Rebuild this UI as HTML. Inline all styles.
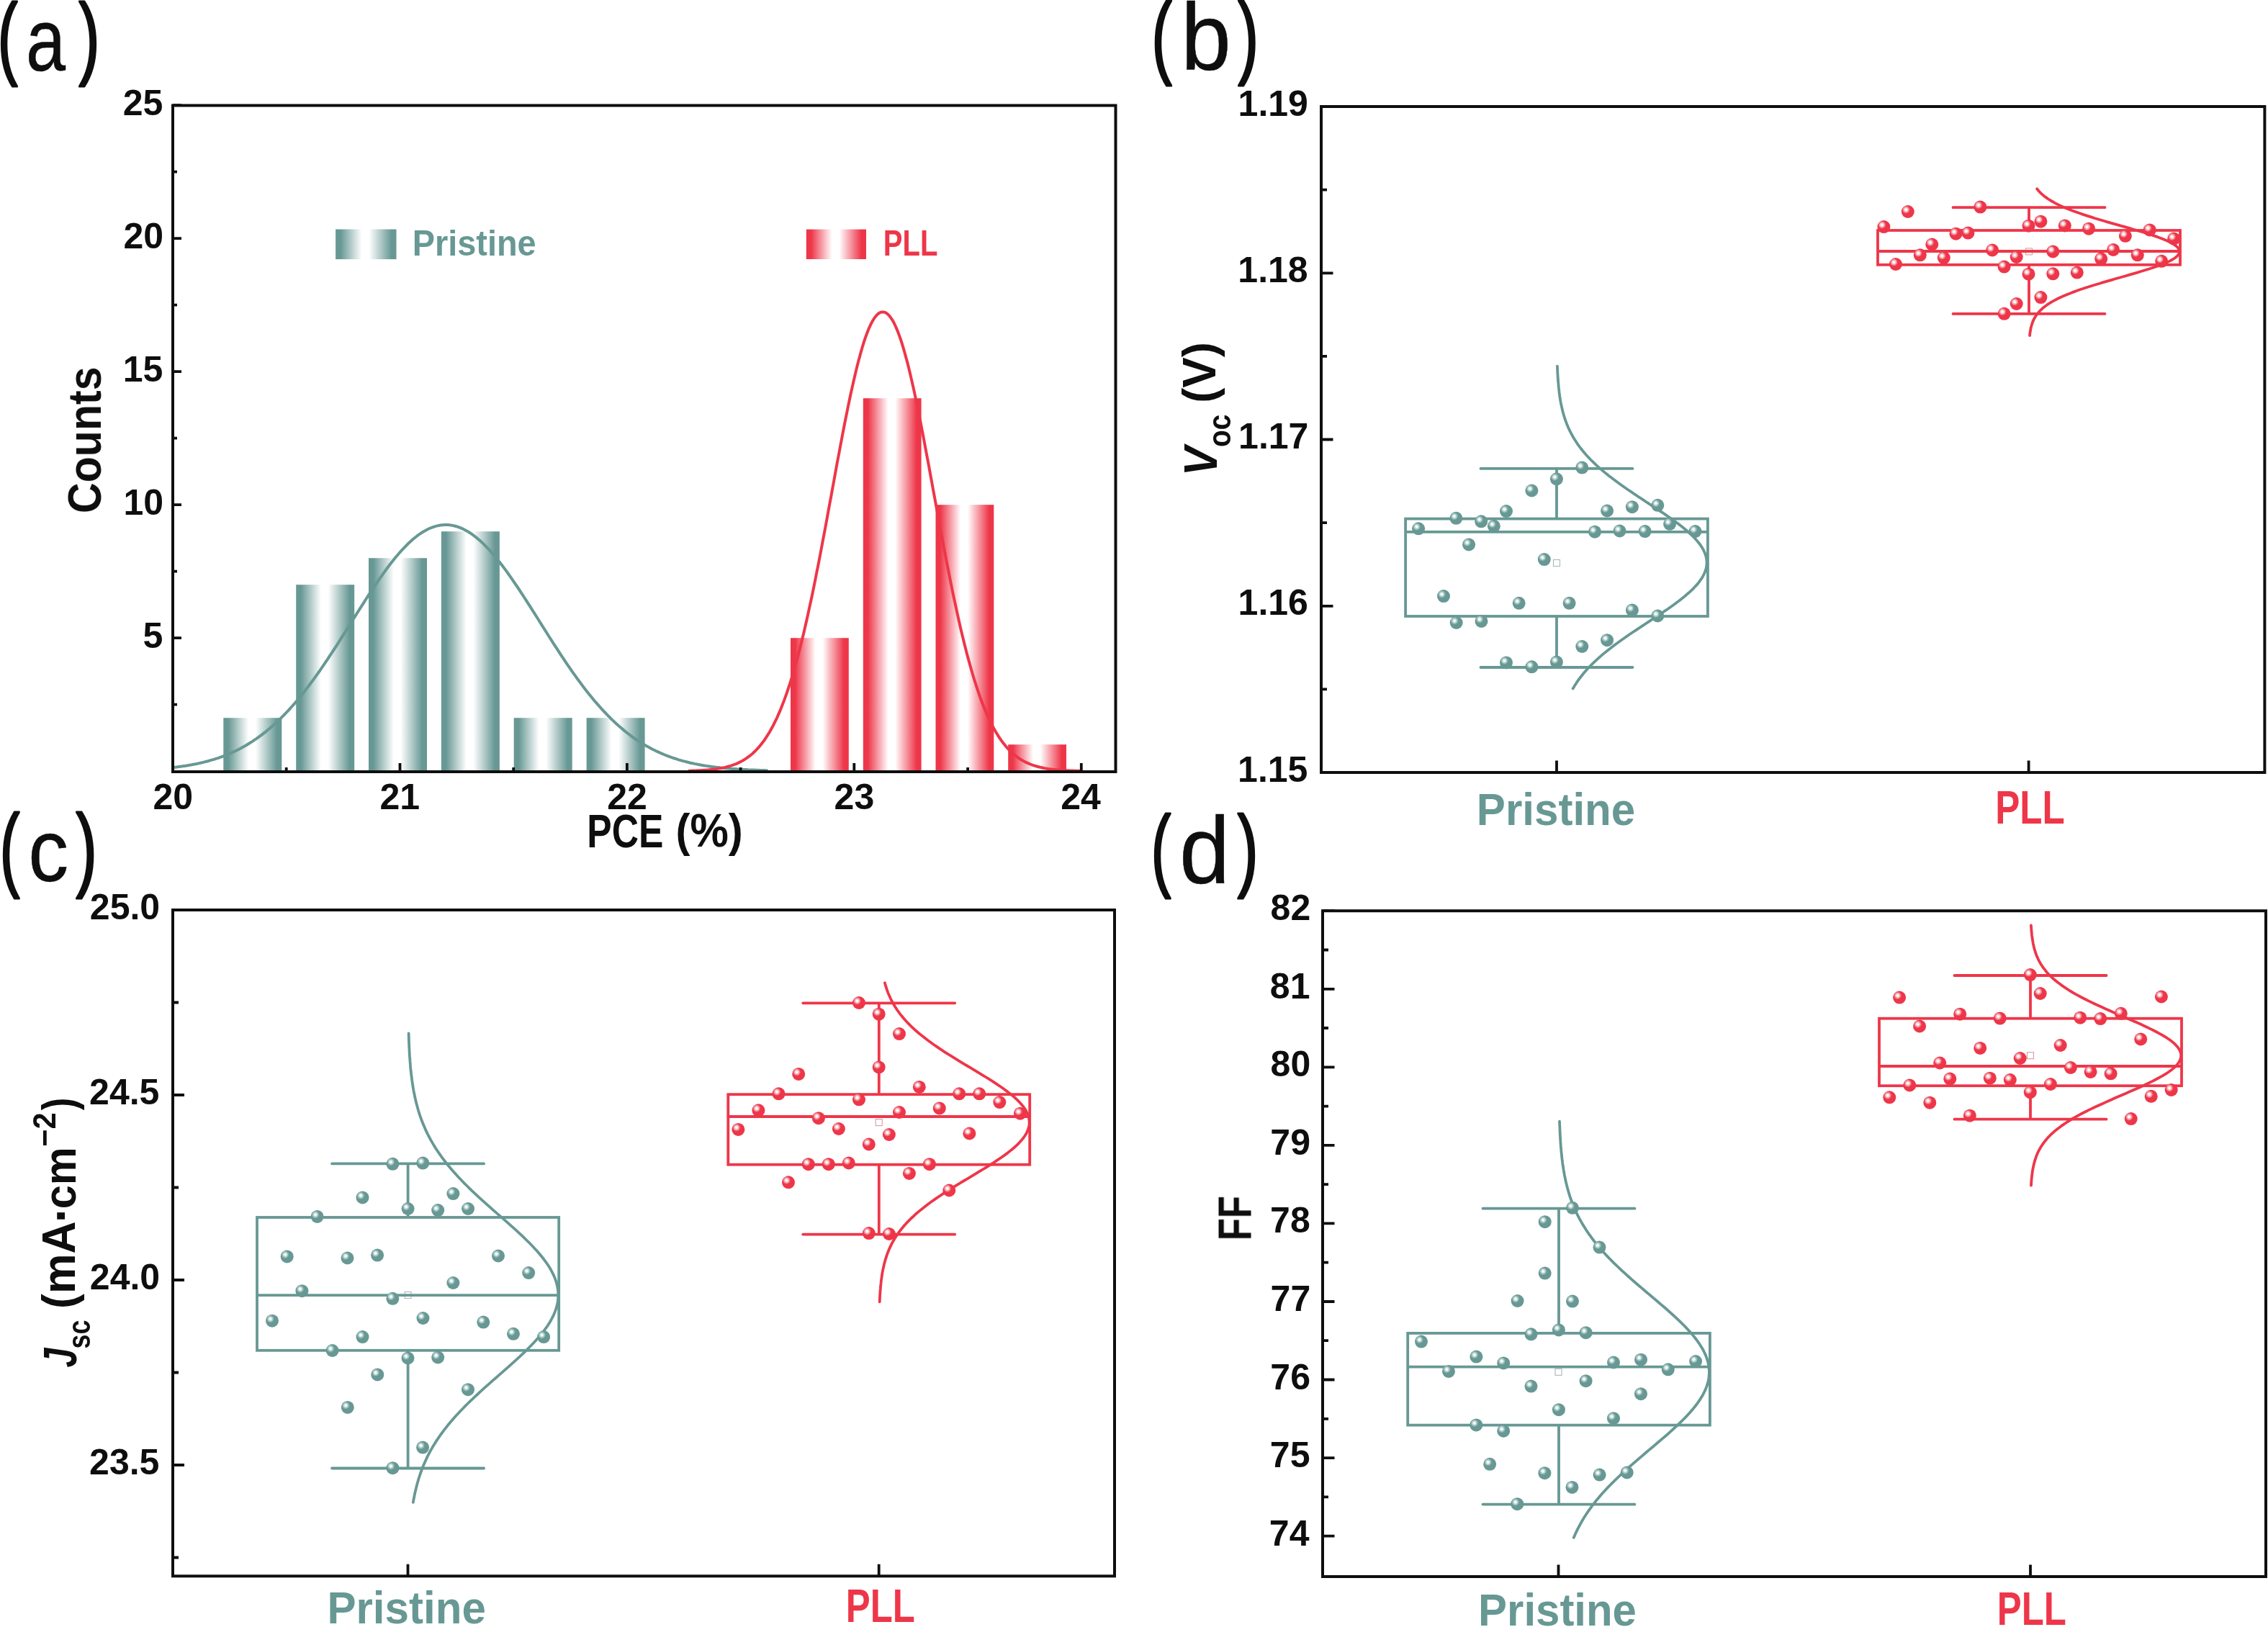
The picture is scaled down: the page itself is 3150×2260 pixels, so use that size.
<!DOCTYPE html><html><head><meta charset="utf-8"><style>html,body{margin:0;padding:0;background:#fff;}svg{display:block;}</style></head><body><svg width="3150" height="2260" viewBox="0 0 3150 2260" font-family="Liberation Sans, sans-serif">
<defs>
<linearGradient id="gT" x1="0" y1="0" x2="1" y2="0"><stop offset="0" stop-color="#679894"/><stop offset="0.08" stop-color="#679894"/><stop offset="0.43" stop-color="#ffffff"/><stop offset="0.55" stop-color="#ffffff"/><stop offset="0.92" stop-color="#679894"/><stop offset="1" stop-color="#679894"/></linearGradient>
<linearGradient id="gR" x1="0" y1="0" x2="1" y2="0"><stop offset="0" stop-color="#EE3649"/><stop offset="0.08" stop-color="#EE3649"/><stop offset="0.43" stop-color="#ffffff"/><stop offset="0.55" stop-color="#ffffff"/><stop offset="0.92" stop-color="#EE3649"/><stop offset="1" stop-color="#EE3649"/></linearGradient>
<radialGradient id="sT" cx="0.36" cy="0.35" r="0.66" fx="0.36" fy="0.35"><stop offset="0" stop-color="#ffffff"/><stop offset="0.1" stop-color="#f6fbfa"/><stop offset="0.28" stop-color="#a9c9c5"/><stop offset="0.46" stop-color="#679894"/><stop offset="0.9" stop-color="#679894"/><stop offset="1" stop-color="#679894"/></radialGradient>
<radialGradient id="sR" cx="0.36" cy="0.35" r="0.66" fx="0.36" fy="0.35"><stop offset="0" stop-color="#ffffff"/><stop offset="0.1" stop-color="#f6fbfa"/><stop offset="0.28" stop-color="#f5a3ad"/><stop offset="0.46" stop-color="#EE3649"/><stop offset="0.9" stop-color="#EE3649"/><stop offset="1" stop-color="#EE3649"/></radialGradient>
<filter id="idf" filterUnits="userSpaceOnUse" x="0" y="0" width="3150" height="2260"><feOffset dx="0" dy="0"/></filter>
</defs>
<rect width="3150" height="2260" fill="#ffffff"/>
<rect x="310.3" y="997.2" width="81.0" height="74.8" fill="url(#gT)"/>
<rect x="411.2" y="812.2" width="81.0" height="259.8" fill="url(#gT)"/>
<rect x="512.0" y="775.2" width="81.0" height="296.8" fill="url(#gT)"/>
<rect x="612.9" y="738.2" width="81.0" height="333.8" fill="url(#gT)"/>
<rect x="713.7" y="997.2" width="81.0" height="74.8" fill="url(#gT)"/>
<rect x="814.6" y="997.2" width="81.0" height="74.8" fill="url(#gT)"/>
<rect x="1098.0" y="886.2" width="80.8" height="185.8" fill="url(#gR)"/>
<rect x="1198.8" y="553.2" width="80.8" height="518.8" fill="url(#gR)"/>
<rect x="1299.5" y="701.2" width="80.8" height="370.8" fill="url(#gR)"/>
<rect x="1400.2" y="1034.2" width="80.8" height="37.8" fill="url(#gR)"/>
<path d="M240.0,1066.1 L242.8,1065.8 L245.5,1065.5 L248.3,1065.1 L251.0,1064.7 L253.8,1064.3 L256.5,1063.9 L259.3,1063.5 L262.0,1063.0 L264.8,1062.6 L267.5,1062.0 L270.3,1061.5 L273.1,1061.0 L275.8,1060.4 L278.6,1059.8 L281.3,1059.1 L284.1,1058.4 L286.8,1057.7 L289.6,1057.0 L292.3,1056.2 L295.1,1055.4 L297.9,1054.6 L300.6,1053.7 L303.4,1052.8 L306.1,1051.8 L308.9,1050.8 L311.6,1049.8 L314.4,1048.7 L317.1,1047.5 L319.9,1046.4 L322.6,1045.1 L325.4,1043.9 L328.2,1042.5 L330.9,1041.2 L333.7,1039.7 L336.4,1038.3 L339.2,1036.7 L341.9,1035.2 L344.7,1033.5 L347.4,1031.8 L350.2,1030.1 L353.0,1028.2 L355.7,1026.4 L358.5,1024.4 L361.2,1022.4 L364.0,1020.4 L366.7,1018.2 L369.5,1016.1 L372.2,1013.8 L375.0,1011.5 L377.7,1009.1 L380.5,1006.6 L383.3,1004.1 L386.0,1001.5 L388.8,998.9 L391.5,996.1 L394.3,993.4 L397.0,990.5 L399.8,987.6 L402.5,984.6 L405.3,981.5 L408.1,978.4 L410.8,975.2 L413.6,971.9 L416.3,968.6 L419.1,965.2 L421.8,961.7 L424.6,958.2 L427.3,954.6 L430.1,951.0 L432.8,947.3 L435.6,943.6 L438.4,939.7 L441.1,935.9 L443.9,932.0 L446.6,928.0 L449.4,924.0 L452.1,919.9 L454.9,915.8 L457.6,911.7 L460.4,907.5 L463.1,903.3 L465.9,899.1 L468.7,894.8 L471.4,890.5 L474.2,886.2 L476.9,881.9 L479.7,877.5 L482.4,873.1 L485.2,868.8 L487.9,864.4 L490.7,860.0 L493.5,855.6 L496.2,851.3 L499.0,846.9 L501.7,842.6 L504.5,838.3 L507.2,834.0 L510.0,829.7 L512.7,825.4 L515.5,821.2 L518.2,817.1 L521.0,813.0 L523.8,808.9 L526.5,804.9 L529.3,801.0 L532.0,797.1 L534.8,793.3 L537.5,789.5 L540.3,785.8 L543.0,782.3 L545.8,778.8 L548.6,775.3 L551.3,772.0 L554.1,768.8 L556.8,765.7 L559.6,762.7 L562.3,759.8 L565.1,757.0 L567.8,754.3 L570.6,751.7 L573.3,749.3 L576.1,747.0 L578.9,744.8 L581.6,742.7 L584.4,740.8 L587.1,739.0 L589.9,737.4 L592.6,735.9 L595.4,734.5 L598.1,733.3 L600.9,732.3 L603.7,731.3 L606.4,730.6 L609.2,730.0 L611.9,729.5 L614.7,729.2 L617.4,729.0 L620.2,729.0 L622.9,729.1 L625.7,729.4 L628.4,729.9 L631.2,730.5 L634.0,731.2 L636.7,732.1 L639.5,733.2 L642.2,734.3 L645.0,735.7 L647.7,737.2 L650.5,738.8 L653.2,740.5 L656.0,742.4 L658.7,744.5 L661.5,746.6 L664.3,748.9 L667.0,751.3 L669.8,753.9 L672.5,756.5 L675.3,759.3 L678.0,762.2 L680.8,765.2 L683.5,768.3 L686.3,771.5 L689.1,774.8 L691.8,778.2 L694.6,781.7 L697.3,785.3 L700.1,788.9 L702.8,792.7 L705.6,796.5 L708.3,800.4 L711.1,804.3 L713.8,808.3 L716.6,812.4 L719.4,816.5 L722.1,820.6 L724.9,824.8 L727.6,829.0 L730.4,833.3 L733.1,837.6 L735.9,841.9 L738.6,846.2 L741.4,850.6 L744.2,855.0 L746.9,859.3 L749.7,863.7 L752.4,868.1 L755.2,872.5 L757.9,876.8 L760.7,881.2 L763.4,885.5 L766.2,889.9 L768.9,894.2 L771.7,898.4 L774.5,902.7 L777.2,906.9 L780.0,911.1 L782.7,915.2 L785.5,919.3 L788.2,923.4 L791.0,927.4 L793.7,931.4 L796.5,935.3 L799.3,939.2 L802.0,943.0 L804.8,946.7 L807.5,950.4 L810.3,954.1 L813.0,957.7 L815.8,961.2 L818.5,964.7 L821.3,968.1 L824.0,971.4 L826.8,974.7 L829.6,977.9 L832.3,981.0 L835.1,984.1 L837.8,987.1 L840.6,990.0 L843.3,992.9 L846.1,995.7 L848.8,998.5 L851.6,1001.1 L854.3,1003.7 L857.1,1006.3 L859.9,1008.7 L862.6,1011.1 L865.4,1013.4 L868.1,1015.7 L870.9,1017.9 L873.6,1020.0 L876.4,1022.1 L879.1,1024.1 L881.9,1026.1 L884.7,1028.0 L887.4,1029.8 L890.2,1031.6 L892.9,1033.3 L895.7,1034.9 L898.4,1036.5 L901.2,1038.0 L903.9,1039.5 L906.7,1041.0 L909.4,1042.3 L912.2,1043.7 L915.0,1044.9 L917.7,1046.2 L920.5,1047.4 L923.2,1048.5 L926.0,1049.6 L928.7,1050.6 L931.5,1051.6 L934.2,1052.6 L937.0,1053.5 L939.8,1054.4 L942.5,1055.3 L945.3,1056.1 L948.0,1056.9 L950.8,1057.6 L953.5,1058.3 L956.3,1059.0 L959.0,1059.7 L961.8,1060.3 L964.5,1060.9 L967.3,1061.4 L970.1,1062.0 L972.8,1062.5 L975.6,1063.0 L978.3,1063.4 L981.1,1063.9 L983.8,1064.3 L986.6,1064.7 L989.3,1065.1 L992.1,1065.4 L994.9,1065.8 L997.6,1066.1 L1000.4,1066.4 L1003.1,1066.7 L1005.9,1066.9 L1008.6,1067.2 L1011.4,1067.4 L1014.1,1067.7 L1016.9,1067.9 L1019.6,1068.1 L1022.4,1068.3 L1025.2,1068.5 L1027.9,1068.7 L1030.7,1068.8 L1033.4,1069.0 L1036.2,1069.1 L1038.9,1069.3 L1041.7,1069.4 L1044.4,1069.5 L1047.2,1069.6 L1049.9,1069.7 L1052.7,1069.8 L1055.5,1069.9 L1058.2,1070.0 L1061.0,1070.1 L1063.7,1070.2 L1066.5,1070.2" fill="none" stroke="#679894" stroke-width="4"/>
<path d="M956.1,1070.8 L957.9,1070.7 L959.7,1070.7 L961.5,1070.6 L963.3,1070.5 L965.2,1070.5 L967.0,1070.4 L968.8,1070.3 L970.6,1070.2 L972.4,1070.2 L974.3,1070.0 L976.1,1069.9 L977.9,1069.8 L979.7,1069.7 L981.5,1069.6 L983.4,1069.4 L985.2,1069.2 L987.0,1069.1 L988.8,1068.9 L990.6,1068.7 L992.5,1068.4 L994.3,1068.2 L996.1,1067.9 L997.9,1067.6 L999.7,1067.3 L1001.5,1067.0 L1003.4,1066.6 L1005.2,1066.3 L1007.0,1065.9 L1008.8,1065.4 L1010.6,1064.9 L1012.5,1064.4 L1014.3,1063.9 L1016.1,1063.3 L1017.9,1062.7 L1019.7,1062.0 L1021.6,1061.3 L1023.4,1060.6 L1025.2,1059.7 L1027.0,1058.9 L1028.8,1058.0 L1030.7,1057.0 L1032.5,1056.0 L1034.3,1054.9 L1036.1,1053.7 L1037.9,1052.4 L1039.7,1051.1 L1041.6,1049.7 L1043.4,1048.2 L1045.2,1046.7 L1047.0,1045.0 L1048.8,1043.3 L1050.7,1041.4 L1052.5,1039.5 L1054.3,1037.4 L1056.1,1035.3 L1057.9,1033.0 L1059.8,1030.6 L1061.6,1028.1 L1063.4,1025.5 L1065.2,1022.7 L1067.0,1019.8 L1068.9,1016.8 L1070.7,1013.6 L1072.5,1010.3 L1074.3,1006.9 L1076.1,1003.2 L1078.0,999.5 L1079.8,995.5 L1081.6,991.4 L1083.4,987.2 L1085.2,982.8 L1087.0,978.1 L1088.9,973.4 L1090.7,968.4 L1092.5,963.3 L1094.3,958.0 L1096.1,952.5 L1098.0,946.8 L1099.8,940.9 L1101.6,934.8 L1103.4,928.6 L1105.2,922.2 L1107.1,915.5 L1108.9,908.7 L1110.7,901.7 L1112.5,894.6 L1114.3,887.2 L1116.2,879.7 L1118.0,871.9 L1119.8,864.0 L1121.6,856.0 L1123.4,847.7 L1125.2,839.4 L1127.1,830.8 L1128.9,822.1 L1130.7,813.3 L1132.5,804.3 L1134.3,795.2 L1136.2,785.9 L1138.0,776.6 L1139.8,767.1 L1141.6,757.6 L1143.4,747.9 L1145.3,738.2 L1147.1,728.4 L1148.9,718.6 L1150.7,708.7 L1152.5,698.8 L1154.4,688.8 L1156.2,678.9 L1158.0,669.0 L1159.8,659.1 L1161.6,649.2 L1163.4,639.4 L1165.3,629.6 L1167.1,619.9 L1168.9,610.3 L1170.7,600.8 L1172.5,591.5 L1174.4,582.2 L1176.2,573.1 L1178.0,564.2 L1179.8,555.5 L1181.6,547.0 L1183.5,538.6 L1185.3,530.5 L1187.1,522.7 L1188.9,515.1 L1190.7,507.7 L1192.6,500.6 L1194.4,493.9 L1196.2,487.4 L1198.0,481.2 L1199.8,475.4 L1201.6,469.9 L1203.5,464.8 L1205.3,460.0 L1207.1,455.6 L1208.9,451.6 L1210.7,448.0 L1212.6,444.7 L1214.4,441.8 L1216.2,439.4 L1218.0,437.4 L1219.8,435.7 L1221.7,434.5 L1223.5,433.7 L1225.3,433.4 L1227.1,433.4 L1228.9,433.9 L1230.8,434.8 L1232.6,436.1 L1234.4,437.8 L1236.2,439.9 L1238.0,442.5 L1239.9,445.4 L1241.7,448.7 L1243.5,452.5 L1245.3,456.6 L1247.1,461.1 L1248.9,465.9 L1250.8,471.1 L1252.6,476.7 L1254.4,482.6 L1256.2,488.8 L1258.0,495.4 L1259.9,502.2 L1261.7,509.3 L1263.5,516.7 L1265.3,524.4 L1267.1,532.3 L1269.0,540.5 L1270.8,548.9 L1272.6,557.5 L1274.4,566.2 L1276.2,575.2 L1278.1,584.3 L1279.9,593.6 L1281.7,603.0 L1283.5,612.5 L1285.3,622.1 L1287.1,631.8 L1289.0,641.6 L1290.8,651.4 L1292.6,661.3 L1294.4,671.2 L1296.2,681.1 L1298.1,691.1 L1299.9,701.0 L1301.7,710.9 L1303.5,720.8 L1305.3,730.6 L1307.2,740.4 L1309.0,750.1 L1310.8,759.7 L1312.6,769.2 L1314.4,778.7 L1316.3,788.0 L1318.1,797.2 L1319.9,806.3 L1321.7,815.3 L1323.5,824.1 L1325.3,832.7 L1327.2,841.3 L1329.0,849.6 L1330.8,857.8 L1332.6,865.8 L1334.4,873.7 L1336.3,881.4 L1338.1,888.9 L1339.9,896.2 L1341.7,903.3 L1343.5,910.3 L1345.4,917.1 L1347.2,923.6 L1349.0,930.0 L1350.8,936.2 L1352.6,942.2 L1354.5,948.1 L1356.3,953.7 L1358.1,959.2 L1359.9,964.5 L1361.7,969.5 L1363.5,974.5 L1365.4,979.2 L1367.2,983.8 L1369.0,988.2 L1370.8,992.4 L1372.6,996.4 L1374.5,1000.3 L1376.3,1004.1 L1378.1,1007.7 L1379.9,1011.1 L1381.7,1014.4 L1383.6,1017.5 L1385.4,1020.5 L1387.2,1023.4 L1389.0,1026.1 L1390.8,1028.7 L1392.7,1031.2 L1394.5,1033.5 L1396.3,1035.8 L1398.1,1037.9 L1399.9,1039.9 L1401.7,1041.9 L1403.6,1043.7 L1405.4,1045.4 L1407.2,1047.0 L1409.0,1048.6 L1410.8,1050.0 L1412.7,1051.4 L1414.5,1052.7 L1416.3,1054.0 L1418.1,1055.1 L1419.9,1056.2 L1421.8,1057.2 L1423.6,1058.2 L1425.4,1059.1 L1427.2,1059.9 L1429.0,1060.7 L1430.9,1061.5 L1432.7,1062.2 L1434.5,1062.8 L1436.3,1063.4 L1438.1,1064.0 L1440.0,1064.5 L1441.8,1065.0 L1443.6,1065.5 L1445.4,1065.9 L1447.2,1066.3 L1449.0,1066.7 L1450.9,1067.1 L1452.7,1067.4 L1454.5,1067.7 L1456.3,1068.0 L1458.1,1068.2 L1460.0,1068.5 L1461.8,1068.7 L1463.6,1068.9 L1465.4,1069.1 L1467.2,1069.3 L1469.1,1069.4 L1470.9,1069.6 L1472.7,1069.7 L1474.5,1069.8 L1476.3,1070.0 L1478.2,1070.1 L1480.0,1070.2 L1481.8,1070.3 L1483.6,1070.3 L1485.4,1070.4 L1487.2,1070.5 L1489.1,1070.6 L1490.9,1070.6 L1492.7,1070.7 L1494.5,1070.7 L1496.3,1070.8 L1498.2,1070.8 L1500.0,1070.8 L1501.8,1070.9" fill="none" stroke="#EE3649" stroke-width="4"/>
<rect x="466.1" y="318.5" width="84.4" height="41.6" fill="url(#gT)"/>
<rect x="1119.8" y="318.6" width="83.2" height="41.4" fill="url(#gR)"/>
<rect x="2157.5" y="777.5" width="9" height="9" fill="none" stroke="#a8b6b9" stroke-width="1.1"/>
<path d="M2162.0,720.6 V650.9 M2162.0,856.0 V927.0" stroke="#679894" stroke-width="3.8" fill="none"/>
<path d="M2056.5,650.9 H2267.5 M2056.5,927.0 H2267.5" stroke="#679894" stroke-width="3.8" fill="none" stroke-linecap="round"/>
<rect x="1952.1" y="720.6" width="419.8" height="135.4" fill="none" stroke="#679894" stroke-width="3.8"/>
<path d="M1952.1,738.8 H2371.9" stroke="#679894" stroke-width="3.8"/>
<path d="M2162.9,508.6 L2163.0,510.8 L2163.1,513.1 L2163.2,515.3 L2163.3,517.6 L2163.4,519.8 L2163.6,522.0 L2163.7,524.3 L2163.9,526.5 L2164.0,528.8 L2164.2,531.0 L2164.4,533.2 L2164.6,535.5 L2164.8,537.7 L2165.0,539.9 L2165.3,542.2 L2165.5,544.4 L2165.8,546.7 L2166.1,548.9 L2166.4,551.1 L2166.8,553.4 L2167.1,555.6 L2167.5,557.9 L2167.9,560.1 L2168.4,562.3 L2168.9,564.6 L2169.4,566.8 L2169.9,569.1 L2170.4,571.3 L2171.0,573.5 L2171.7,575.8 L2172.3,578.0 L2173.0,580.2 L2173.8,582.5 L2174.5,584.7 L2175.4,587.0 L2176.2,589.2 L2177.2,591.4 L2178.1,593.7 L2179.1,595.9 L2180.2,598.2 L2181.3,600.4 L2182.5,602.6 L2183.7,604.9 L2184.9,607.1 L2186.3,609.4 L2187.7,611.6 L2189.1,613.8 L2190.6,616.1 L2192.2,618.3 L2193.8,620.5 L2195.5,622.8 L2197.3,625.0 L2199.1,627.3 L2201.0,629.5 L2202.9,631.7 L2205.0,634.0 L2207.1,636.2 L2209.2,638.5 L2211.5,640.7 L2213.8,642.9 L2216.1,645.2 L2218.5,647.4 L2221.0,649.7 L2223.6,651.9 L2226.2,654.1 L2228.9,656.4 L2231.7,658.6 L2234.5,660.9 L2237.4,663.1 L2240.3,665.3 L2243.3,667.6 L2246.3,669.8 L2249.4,672.0 L2252.5,674.3 L2255.7,676.5 L2258.9,678.8 L2262.2,681.0 L2265.5,683.2 L2268.8,685.5 L2272.1,687.7 L2275.5,690.0 L2278.9,692.2 L2282.3,694.4 L2285.7,696.7 L2289.1,698.9 L2292.5,701.2 L2295.9,703.4 L2299.3,705.6 L2302.7,707.9 L2306.0,710.1 L2309.4,712.3 L2312.7,714.6 L2315.9,716.8 L2319.1,719.1 L2322.3,721.3 L2325.4,723.5 L2328.4,725.8 L2331.4,728.0 L2334.3,730.3 L2337.2,732.5 L2339.9,734.7 L2342.6,737.0 L2345.1,739.2 L2347.6,741.5 L2350.0,743.7 L2352.2,745.9 L2354.4,748.2 L2356.4,750.4 L2358.3,752.7 L2360.1,754.9 L2361.7,757.1 L2363.2,759.4 L2364.6,761.6 L2365.8,763.8 L2366.9,766.1 L2367.9,768.3 L2368.7,770.6 L2369.4,772.8 L2369.9,775.0 L2370.2,777.3 L2370.4,779.5 L2370.5,781.8 L2370.4,784.0 L2370.2,786.2 L2369.8,788.5 L2369.2,790.7 L2368.5,793.0 L2367.7,795.2 L2366.7,797.4 L2365.6,799.7 L2364.3,801.9 L2362.9,804.1 L2361.3,806.4 L2359.7,808.6 L2357.9,810.9 L2355.9,813.1 L2353.9,815.3 L2351.7,817.6 L2349.4,819.8 L2347.0,822.1 L2344.5,824.3 L2342.0,826.5 L2339.3,828.8 L2336.5,831.0 L2333.7,833.3 L2330.7,835.5 L2327.7,837.7 L2324.7,840.0 L2321.6,842.2 L2318.4,844.5 L2315.2,846.7 L2311.9,848.9 L2308.6,851.2 L2305.3,853.4 L2301.9,855.6 L2298.5,857.9 L2295.1,860.1 L2291.7,862.4 L2288.3,864.6 L2284.9,866.8 L2281.5,869.1 L2278.1,871.3 L2274.7,873.6 L2271.4,875.8 L2268.0,878.0 L2264.7,880.3 L2261.4,882.5 L2258.2,884.8 L2255.0,887.0 L2251.8,889.2 L2248.7,891.5 L2245.6,893.7 L2242.6,895.9 L2239.6,898.2 L2236.7,900.4 L2233.8,902.7 L2231.0,904.9 L2228.3,907.1 L2225.6,909.4 L2223.0,911.6 L2220.5,913.9 L2218.0,916.1 L2215.6,918.3 L2213.2,920.6 L2210.9,922.8 L2208.7,925.1 L2206.6,927.3 L2204.5,929.5 L2202.5,931.8 L2200.5,934.0 L2198.7,936.2 L2196.9,938.5 L2195.1,940.7 L2193.4,943.0 L2191.8,945.2 L2190.3,947.4 L2188.8,949.7 L2187.3,951.9 L2186.0,954.2 L2184.6,956.4" fill="none" stroke="#679894" stroke-width="3.8" stroke-linecap="round"/>
<circle cx="1970.1" cy="734.3" r="9" fill="url(#sT)"/>
<circle cx="2022.4" cy="719.8" r="9" fill="url(#sT)"/>
<circle cx="2057.2" cy="724.3" r="9" fill="url(#sT)"/>
<circle cx="2074.9" cy="730.8" r="9" fill="url(#sT)"/>
<circle cx="2092.0" cy="710.1" r="9" fill="url(#sT)"/>
<circle cx="2127.4" cy="681.5" r="9" fill="url(#sT)"/>
<circle cx="2161.9" cy="665.3" r="9" fill="url(#sT)"/>
<circle cx="2197.3" cy="649.6" r="9" fill="url(#sT)"/>
<circle cx="2232.1" cy="709.5" r="9" fill="url(#sT)"/>
<circle cx="2266.9" cy="704.2" r="9" fill="url(#sT)"/>
<circle cx="2302.3" cy="701.8" r="9" fill="url(#sT)"/>
<circle cx="2319.1" cy="727.8" r="9" fill="url(#sT)"/>
<circle cx="2354.5" cy="738.1" r="9" fill="url(#sT)"/>
<circle cx="2215.0" cy="738.7" r="9" fill="url(#sT)"/>
<circle cx="2249.5" cy="737.5" r="9" fill="url(#sT)"/>
<circle cx="2284.6" cy="738.1" r="9" fill="url(#sT)"/>
<circle cx="2040.1" cy="756.4" r="9" fill="url(#sT)"/>
<circle cx="2144.8" cy="777.1" r="9" fill="url(#sT)"/>
<circle cx="2005.0" cy="828.1" r="9" fill="url(#sT)"/>
<circle cx="2109.7" cy="837.8" r="9" fill="url(#sT)"/>
<circle cx="2179.6" cy="837.8" r="9" fill="url(#sT)"/>
<circle cx="2266.9" cy="847.6" r="9" fill="url(#sT)"/>
<circle cx="2302.3" cy="855.5" r="9" fill="url(#sT)"/>
<circle cx="2022.7" cy="865.0" r="9" fill="url(#sT)"/>
<circle cx="2057.5" cy="862.9" r="9" fill="url(#sT)"/>
<circle cx="2232.1" cy="889.2" r="9" fill="url(#sT)"/>
<circle cx="2197.3" cy="898.0" r="9" fill="url(#sT)"/>
<circle cx="2092.0" cy="920.4" r="9" fill="url(#sT)"/>
<circle cx="2127.4" cy="926.3" r="9" fill="url(#sT)"/>
<circle cx="2161.9" cy="919.6" r="9" fill="url(#sT)"/>
<rect x="2813.5" y="344.9" width="9" height="9" fill="none" stroke="#d99ca4" stroke-width="1.1"/>
<path d="M2818.0,320.0 V288.2 M2818.0,367.8 V435.9" stroke="#EE3649" stroke-width="3.8" fill="none"/>
<path d="M2712.5,288.2 H2923.5 M2712.5,435.9 H2923.5" stroke="#EE3649" stroke-width="3.8" fill="none" stroke-linecap="round"/>
<rect x="2608.0" y="320.0" width="420.0" height="47.8" fill="none" stroke="#EE3649" stroke-width="3.8"/>
<path d="M2608.0,349.0 H3028.0" stroke="#EE3649" stroke-width="3.8"/>
<path d="M2829.1,262.2 L2829.9,263.2 L2830.7,264.2 L2831.6,265.3 L2832.5,266.3 L2833.5,267.3 L2834.5,268.3 L2835.6,269.3 L2836.8,270.4 L2838.0,271.4 L2839.2,272.4 L2840.5,273.4 L2841.9,274.4 L2843.3,275.4 L2844.8,276.5 L2846.4,277.5 L2848.1,278.5 L2849.8,279.5 L2851.6,280.5 L2853.4,281.6 L2855.3,282.6 L2857.3,283.6 L2859.4,284.6 L2861.5,285.6 L2863.8,286.7 L2866.1,287.7 L2868.4,288.7 L2870.9,289.7 L2873.4,290.7 L2876.0,291.8 L2878.6,292.8 L2881.4,293.8 L2884.2,294.8 L2887.1,295.8 L2890.0,296.8 L2893.0,297.9 L2896.1,298.9 L2899.2,299.9 L2902.4,300.9 L2905.7,301.9 L2908.9,303.0 L2912.3,304.0 L2915.7,305.0 L2919.1,306.0 L2922.6,307.0 L2926.1,308.1 L2929.6,309.1 L2933.2,310.1 L2936.7,311.1 L2940.3,312.1 L2943.9,313.1 L2947.5,314.2 L2951.1,315.2 L2954.6,316.2 L2958.2,317.2 L2961.7,318.2 L2965.2,319.3 L2968.7,320.3 L2972.1,321.3 L2975.5,322.3 L2978.8,323.3 L2982.1,324.4 L2985.3,325.4 L2988.4,326.4 L2991.4,327.4 L2994.4,328.4 L2997.3,329.5 L3000.0,330.5 L3002.7,331.5 L3005.2,332.5 L3007.6,333.5 L3010.0,334.5 L3012.1,335.6 L3014.2,336.6 L3016.1,337.6 L3017.8,338.6 L3019.5,339.6 L3020.9,340.7 L3022.3,341.7 L3023.4,342.7 L3024.4,343.7 L3025.3,344.7 L3025.9,345.8 L3026.4,346.8 L3026.8,347.8 L3027.0,348.8 L3027.0,349.8 L3026.8,350.9 L3026.5,351.9 L3026.0,352.9 L3025.4,353.9 L3024.5,354.9 L3023.6,355.9 L3022.4,357.0 L3021.1,358.0 L3019.7,359.0 L3018.1,360.0 L3016.4,361.0 L3014.5,362.1 L3012.4,363.1 L3010.3,364.1 L3008.0,365.1 L3005.6,366.1 L3003.1,367.2 L3000.4,368.2 L2997.7,369.2 L2994.8,370.2 L2991.9,371.2 L2988.9,372.3 L2985.8,373.3 L2982.6,374.3 L2979.3,375.3 L2976.0,376.3 L2972.6,377.3 L2969.2,378.4 L2965.7,379.4 L2962.2,380.4 L2958.7,381.4 L2955.2,382.4 L2951.6,383.5 L2948.0,384.5 L2944.4,385.5 L2940.8,386.5 L2937.2,387.5 L2933.7,388.6 L2930.1,389.6 L2926.6,390.6 L2923.1,391.6 L2919.6,392.6 L2916.2,393.7 L2912.8,394.7 L2909.4,395.7 L2906.1,396.7 L2902.9,397.7 L2899.7,398.7 L2896.5,399.8 L2893.5,400.8 L2890.4,401.8 L2887.5,402.8 L2884.6,403.8 L2881.8,404.9 L2879.0,405.9 L2876.4,406.9 L2873.8,407.9 L2871.2,408.9 L2868.8,410.0 L2866.4,411.0 L2864.1,412.0 L2861.9,413.0 L2859.7,414.0 L2857.6,415.0 L2855.6,416.1 L2853.7,417.1 L2851.8,418.1 L2850.0,419.1 L2848.3,420.1 L2846.7,421.2 L2845.1,422.2 L2843.6,423.2 L2842.1,424.2 L2840.7,425.2 L2839.4,426.3 L2838.1,427.3 L2836.9,428.3 L2835.8,429.3 L2834.7,430.3 L2833.7,431.4 L2832.7,432.4 L2831.7,433.4 L2830.9,434.4 L2830.0,435.4 L2829.2,436.4 L2828.5,437.5 L2827.8,438.5 L2827.1,439.5 L2826.5,440.5 L2825.9,441.5 L2825.3,442.6 L2824.8,443.6 L2824.3,444.6 L2823.9,445.6 L2823.4,446.6 L2823.0,447.7 L2822.7,448.7 L2822.3,449.7 L2822.0,450.7 L2821.7,451.7 L2821.4,452.8 L2821.1,453.8 L2820.9,454.8 L2820.6,455.8 L2820.4,456.8 L2820.2,457.8 L2820.1,458.9 L2819.9,459.9 L2819.7,460.9 L2819.6,461.9 L2819.4,462.9 L2819.3,464.0 L2819.2,465.0 L2819.1,466.0" fill="none" stroke="#EE3649" stroke-width="3.8" stroke-linecap="round"/>
<circle cx="2616.4" cy="315.1" r="9" fill="url(#sR)"/>
<circle cx="2649.8" cy="294.0" r="9" fill="url(#sR)"/>
<circle cx="2632.9" cy="367.0" r="9" fill="url(#sR)"/>
<circle cx="2666.8" cy="354.3" r="9" fill="url(#sR)"/>
<circle cx="2683.3" cy="339.5" r="9" fill="url(#sR)"/>
<circle cx="2699.8" cy="358.1" r="9" fill="url(#sR)"/>
<circle cx="2716.5" cy="324.7" r="9" fill="url(#sR)"/>
<circle cx="2733.4" cy="323.6" r="9" fill="url(#sR)"/>
<circle cx="2750.4" cy="287.6" r="9" fill="url(#sR)"/>
<circle cx="2767.1" cy="347.5" r="9" fill="url(#sR)"/>
<circle cx="2783.6" cy="370.6" r="9" fill="url(#sR)"/>
<circle cx="2800.7" cy="357.0" r="9" fill="url(#sR)"/>
<circle cx="2817.5" cy="313.7" r="9" fill="url(#sR)"/>
<circle cx="2817.5" cy="380.7" r="9" fill="url(#sR)"/>
<circle cx="2834.4" cy="307.7" r="9" fill="url(#sR)"/>
<circle cx="2851.3" cy="349.4" r="9" fill="url(#sR)"/>
<circle cx="2851.3" cy="380.3" r="9" fill="url(#sR)"/>
<circle cx="2867.8" cy="313.4" r="9" fill="url(#sR)"/>
<circle cx="2884.8" cy="378.6" r="9" fill="url(#sR)"/>
<circle cx="2901.1" cy="317.7" r="9" fill="url(#sR)"/>
<circle cx="2918.2" cy="359.6" r="9" fill="url(#sR)"/>
<circle cx="2935.1" cy="346.9" r="9" fill="url(#sR)"/>
<circle cx="2951.9" cy="327.8" r="9" fill="url(#sR)"/>
<circle cx="2968.8" cy="354.3" r="9" fill="url(#sR)"/>
<circle cx="2985.7" cy="319.4" r="9" fill="url(#sR)"/>
<circle cx="3002.2" cy="362.8" r="9" fill="url(#sR)"/>
<circle cx="3019.2" cy="331.6" r="9" fill="url(#sR)"/>
<circle cx="2800.7" cy="422.0" r="9" fill="url(#sR)"/>
<circle cx="2783.6" cy="435.8" r="9" fill="url(#sR)"/>
<circle cx="2834.4" cy="413.1" r="9" fill="url(#sR)"/>
<rect x="562.1" y="1794.5" width="9" height="9" fill="none" stroke="#a8b6b9" stroke-width="1.1"/>
<path d="M566.6,1691.0 V1616.4 M566.6,1875.8 V2039.5" stroke="#679894" stroke-width="3.8" fill="none"/>
<path d="M461.1,1616.4 H672.1 M461.1,2039.5 H672.1" stroke="#679894" stroke-width="3.8" fill="none" stroke-linecap="round"/>
<rect x="357.0" y="1691.0" width="419.2" height="184.8" fill="none" stroke="#679894" stroke-width="3.8"/>
<path d="M357.0,1799.2 H776.2" stroke="#679894" stroke-width="3.8"/>
<path d="M567.6,1435.3 L567.7,1438.6 L567.8,1441.8 L567.9,1445.1 L568.0,1448.3 L568.2,1451.6 L568.3,1454.8 L568.5,1458.1 L568.6,1461.4 L568.8,1464.6 L569.0,1467.9 L569.3,1471.1 L569.5,1474.4 L569.8,1477.6 L570.0,1480.9 L570.3,1484.2 L570.7,1487.4 L571.0,1490.7 L571.4,1493.9 L571.8,1497.2 L572.2,1500.5 L572.7,1503.7 L573.2,1507.0 L573.7,1510.2 L574.2,1513.5 L574.8,1516.7 L575.5,1520.0 L576.1,1523.3 L576.9,1526.5 L577.6,1529.8 L578.4,1533.0 L579.3,1536.3 L580.2,1539.5 L581.1,1542.8 L582.2,1546.1 L583.2,1549.3 L584.4,1552.6 L585.5,1555.8 L586.8,1559.1 L588.1,1562.3 L589.5,1565.6 L590.9,1568.9 L592.4,1572.1 L594.0,1575.4 L595.7,1578.6 L597.4,1581.9 L599.2,1585.1 L601.1,1588.4 L603.1,1591.7 L605.1,1594.9 L607.2,1598.2 L609.4,1601.4 L611.7,1604.7 L614.0,1607.9 L616.5,1611.2 L619.0,1614.5 L621.6,1617.7 L624.3,1621.0 L627.0,1624.2 L629.9,1627.5 L632.8,1630.8 L635.7,1634.0 L638.8,1637.3 L641.9,1640.5 L645.1,1643.8 L648.4,1647.0 L651.7,1650.3 L655.0,1653.6 L658.5,1656.8 L662.0,1660.1 L665.5,1663.3 L669.0,1666.6 L672.7,1669.8 L676.3,1673.1 L680.0,1676.4 L683.6,1679.6 L687.3,1682.9 L691.0,1686.1 L694.8,1689.4 L698.5,1692.6 L702.2,1695.9 L705.9,1699.2 L709.5,1702.4 L713.2,1705.7 L716.8,1708.9 L720.3,1712.2 L723.8,1715.4 L727.3,1718.7 L730.6,1722.0 L733.9,1725.2 L737.2,1728.5 L740.3,1731.7 L743.3,1735.0 L746.3,1738.2 L749.1,1741.5 L751.8,1744.8 L754.4,1748.0 L756.9,1751.3 L759.2,1754.5 L761.4,1757.8 L763.5,1761.1 L765.4,1764.3 L767.1,1767.6 L768.7,1770.8 L770.1,1774.1 L771.4,1777.3 L772.5,1780.6 L773.4,1783.9 L774.1,1787.1 L774.7,1790.4 L775.1,1793.6 L775.3,1796.9 L775.3,1800.1 L775.1,1803.4 L774.8,1806.7 L774.3,1809.9 L773.6,1813.2 L772.7,1816.4 L771.7,1819.7 L770.5,1822.9 L769.1,1826.2 L767.6,1829.5 L765.9,1832.7 L764.0,1836.0 L762.0,1839.2 L759.9,1842.5 L757.6,1845.7 L755.2,1849.0 L752.6,1852.3 L749.9,1855.5 L747.1,1858.8 L744.2,1862.0 L741.2,1865.3 L738.1,1868.5 L734.9,1871.8 L731.6,1875.1 L728.3,1878.3 L724.8,1881.6 L721.4,1884.8 L717.8,1888.1 L714.2,1891.4 L710.6,1894.6 L707.0,1897.9 L703.3,1901.1 L699.6,1904.4 L695.9,1907.6 L692.2,1910.9 L688.4,1914.2 L684.7,1917.4 L681.1,1920.7 L677.4,1923.9 L673.7,1927.2 L670.1,1930.4 L666.5,1933.7 L663.0,1937.0 L659.5,1940.2 L656.1,1943.5 L652.7,1946.7 L649.3,1950.0 L646.1,1953.2 L642.9,1956.5 L639.7,1959.8 L636.7,1963.0 L633.6,1966.3 L630.7,1969.5 L627.9,1972.8 L625.1,1976.0 L622.4,1979.3 L619.8,1982.6 L617.2,1985.8 L614.8,1989.1 L612.4,1992.3 L610.1,1995.6 L607.9,1998.8 L605.7,2002.1 L603.7,2005.4 L601.7,2008.6 L599.8,2011.9 L597.9,2015.1 L596.2,2018.4 L594.5,2021.7 L592.9,2024.9 L591.4,2028.2 L589.9,2031.4 L588.5,2034.7 L587.2,2037.9 L585.9,2041.2 L584.7,2044.5 L583.6,2047.7 L582.5,2051.0 L581.4,2054.2 L580.5,2057.5 L579.5,2060.7 L578.7,2064.0 L577.9,2067.3 L577.1,2070.5 L576.3,2073.8 L575.7,2077.0 L575.0,2080.3 L574.4,2083.5 L573.8,2086.8" fill="none" stroke="#679894" stroke-width="3.8" stroke-linecap="round"/>
<circle cx="545.4" cy="1616.8" r="9" fill="url(#sT)"/>
<circle cx="587.3" cy="1615.6" r="9" fill="url(#sT)"/>
<circle cx="503.5" cy="1663.4" r="9" fill="url(#sT)"/>
<circle cx="629.4" cy="1658.1" r="9" fill="url(#sT)"/>
<circle cx="566.6" cy="1679.0" r="9" fill="url(#sT)"/>
<circle cx="608.2" cy="1681.1" r="9" fill="url(#sT)"/>
<circle cx="650.1" cy="1679.0" r="9" fill="url(#sT)"/>
<circle cx="440.6" cy="1689.9" r="9" fill="url(#sT)"/>
<circle cx="398.7" cy="1745.4" r="9" fill="url(#sT)"/>
<circle cx="482.5" cy="1747.5" r="9" fill="url(#sT)"/>
<circle cx="524.1" cy="1743.6" r="9" fill="url(#sT)"/>
<circle cx="692.0" cy="1744.5" r="9" fill="url(#sT)"/>
<circle cx="734.2" cy="1768.1" r="9" fill="url(#sT)"/>
<circle cx="629.4" cy="1782.0" r="9" fill="url(#sT)"/>
<circle cx="419.4" cy="1793.2" r="9" fill="url(#sT)"/>
<circle cx="545.4" cy="1803.8" r="9" fill="url(#sT)"/>
<circle cx="378.0" cy="1834.7" r="9" fill="url(#sT)"/>
<circle cx="587.5" cy="1831.0" r="9" fill="url(#sT)"/>
<circle cx="671.3" cy="1836.6" r="9" fill="url(#sT)"/>
<circle cx="503.5" cy="1857.1" r="9" fill="url(#sT)"/>
<circle cx="713.0" cy="1852.8" r="9" fill="url(#sT)"/>
<circle cx="755.1" cy="1857.1" r="9" fill="url(#sT)"/>
<circle cx="461.6" cy="1876.0" r="9" fill="url(#sT)"/>
<circle cx="566.5" cy="1886.5" r="9" fill="url(#sT)"/>
<circle cx="608.2" cy="1885.5" r="9" fill="url(#sT)"/>
<circle cx="524.3" cy="1909.4" r="9" fill="url(#sT)"/>
<circle cx="650.0" cy="1930.2" r="9" fill="url(#sT)"/>
<circle cx="482.8" cy="1954.9" r="9" fill="url(#sT)"/>
<circle cx="587.1" cy="2010.6" r="9" fill="url(#sT)"/>
<circle cx="545.4" cy="2039.2" r="9" fill="url(#sT)"/>
<rect x="1216.2" y="1554.6" width="9" height="9" fill="none" stroke="#d99ca4" stroke-width="1.1"/>
<path d="M1220.8,1520.2 V1393.3 M1220.8,1617.7 V1714.6" stroke="#EE3649" stroke-width="3.8" fill="none"/>
<path d="M1115.2,1393.3 H1326.2 M1115.2,1714.6 H1326.2" stroke="#EE3649" stroke-width="3.8" fill="none" stroke-linecap="round"/>
<rect x="1011.3" y="1520.2" width="418.9" height="97.5" fill="none" stroke="#EE3649" stroke-width="3.8"/>
<path d="M1011.3,1551.0 H1430.2" stroke="#EE3649" stroke-width="3.8"/>
<path d="M1228.9,1365.3 L1229.5,1367.5 L1230.2,1369.7 L1230.9,1371.9 L1231.6,1374.2 L1232.4,1376.4 L1233.2,1378.6 L1234.1,1380.8 L1235.1,1383.0 L1236.1,1385.2 L1237.1,1387.5 L1238.2,1389.7 L1239.4,1391.9 L1240.6,1394.1 L1241.9,1396.3 L1243.2,1398.5 L1244.7,1400.7 L1246.1,1403.0 L1247.7,1405.2 L1249.3,1407.4 L1251.0,1409.6 L1252.8,1411.8 L1254.6,1414.0 L1256.6,1416.3 L1258.6,1418.5 L1260.6,1420.7 L1262.8,1422.9 L1265.0,1425.1 L1267.3,1427.3 L1269.7,1429.5 L1272.2,1431.8 L1274.7,1434.0 L1277.4,1436.2 L1280.1,1438.4 L1282.9,1440.6 L1285.7,1442.8 L1288.6,1445.1 L1291.7,1447.3 L1294.7,1449.5 L1297.9,1451.7 L1301.1,1453.9 L1304.3,1456.1 L1307.7,1458.4 L1311.0,1460.6 L1314.5,1462.8 L1318.0,1465.0 L1321.5,1467.2 L1325.1,1469.4 L1328.7,1471.6 L1332.3,1473.9 L1335.9,1476.1 L1339.6,1478.3 L1343.3,1480.5 L1347.0,1482.7 L1350.7,1484.9 L1354.4,1487.2 L1358.0,1489.4 L1361.7,1491.6 L1365.3,1493.8 L1368.9,1496.0 L1372.5,1498.2 L1376.0,1500.4 L1379.5,1502.7 L1382.9,1504.9 L1386.2,1507.1 L1389.4,1509.3 L1392.6,1511.5 L1395.7,1513.7 L1398.7,1516.0 L1401.6,1518.2 L1404.4,1520.4 L1407.0,1522.6 L1409.6,1524.8 L1412.0,1527.0 L1414.2,1529.2 L1416.4,1531.5 L1418.4,1533.7 L1420.2,1535.9 L1421.9,1538.1 L1423.4,1540.3 L1424.8,1542.5 L1426.0,1544.8 L1427.0,1547.0 L1427.9,1549.2 L1428.6,1551.4 L1429.1,1553.6 L1429.5,1555.8 L1429.6,1558.0 L1429.6,1560.3 L1429.4,1562.5 L1429.1,1564.7 L1428.5,1566.9 L1427.8,1569.1 L1426.9,1571.3 L1425.9,1573.6 L1424.6,1575.8 L1423.2,1578.0 L1421.7,1580.2 L1420.0,1582.4 L1418.1,1584.6 L1416.1,1586.8 L1413.9,1589.1 L1411.6,1591.3 L1409.2,1593.5 L1406.6,1595.7 L1404.0,1597.9 L1401.2,1600.1 L1398.3,1602.4 L1395.3,1604.6 L1392.2,1606.8 L1389.0,1609.0 L1385.7,1611.2 L1382.4,1613.4 L1379.0,1615.7 L1375.5,1617.9 L1372.0,1620.1 L1368.4,1622.3 L1364.8,1624.5 L1361.2,1626.7 L1357.5,1628.9 L1353.9,1631.2 L1350.2,1633.4 L1346.5,1635.6 L1342.8,1637.8 L1339.1,1640.0 L1335.4,1642.2 L1331.8,1644.5 L1328.1,1646.7 L1324.6,1648.9 L1321.0,1651.1 L1317.5,1653.3 L1314.0,1655.5 L1310.6,1657.7 L1307.2,1660.0 L1303.9,1662.2 L1300.6,1664.4 L1297.4,1666.6 L1294.3,1668.8 L1291.2,1671.0 L1288.2,1673.3 L1285.3,1675.5 L1282.5,1677.7 L1279.7,1679.9 L1277.0,1682.1 L1274.4,1684.3 L1271.8,1686.5 L1269.4,1688.8 L1267.0,1691.0 L1264.7,1693.2 L1262.5,1695.4 L1260.3,1697.6 L1258.3,1699.8 L1256.3,1702.1 L1254.4,1704.3 L1252.5,1706.5 L1250.8,1708.7 L1249.1,1710.9 L1247.5,1713.1 L1245.9,1715.3 L1244.4,1717.6 L1243.0,1719.8 L1241.7,1722.0 L1240.4,1724.2 L1239.2,1726.4 L1238.0,1728.6 L1237.0,1730.9 L1235.9,1733.1 L1234.9,1735.3 L1234.0,1737.5 L1233.1,1739.7 L1232.3,1741.9 L1231.5,1744.2 L1230.8,1746.4 L1230.1,1748.6 L1229.4,1750.8 L1228.8,1753.0 L1228.2,1755.2 L1227.7,1757.4 L1227.2,1759.7 L1226.7,1761.9 L1226.2,1764.1 L1225.8,1766.3 L1225.4,1768.5 L1225.1,1770.7 L1224.7,1773.0 L1224.4,1775.2 L1224.1,1777.4 L1223.8,1779.6 L1223.6,1781.8 L1223.4,1784.0 L1223.1,1786.2 L1222.9,1788.5 L1222.8,1790.7 L1222.6,1792.9 L1222.4,1795.1 L1222.3,1797.3 L1222.1,1799.5 L1222.0,1801.8 L1221.9,1804.0 L1221.8,1806.2 L1221.7,1808.4" fill="none" stroke="#EE3649" stroke-width="3.8" stroke-linecap="round"/>
<circle cx="1193.0" cy="1393.0" r="9" fill="url(#sR)"/>
<circle cx="1220.7" cy="1408.7" r="9" fill="url(#sR)"/>
<circle cx="1249.0" cy="1436.1" r="9" fill="url(#sR)"/>
<circle cx="1220.7" cy="1482.4" r="9" fill="url(#sR)"/>
<circle cx="1109.2" cy="1491.9" r="9" fill="url(#sR)"/>
<circle cx="1276.8" cy="1509.9" r="9" fill="url(#sR)"/>
<circle cx="1081.5" cy="1519.3" r="9" fill="url(#sR)"/>
<circle cx="1332.2" cy="1519.3" r="9" fill="url(#sR)"/>
<circle cx="1360.2" cy="1519.3" r="9" fill="url(#sR)"/>
<circle cx="1193.0" cy="1527.3" r="9" fill="url(#sR)"/>
<circle cx="1388.3" cy="1531.1" r="9" fill="url(#sR)"/>
<circle cx="1053.4" cy="1542.3" r="9" fill="url(#sR)"/>
<circle cx="1304.8" cy="1539.4" r="9" fill="url(#sR)"/>
<circle cx="1249.0" cy="1545.0" r="9" fill="url(#sR)"/>
<circle cx="1416.9" cy="1546.7" r="9" fill="url(#sR)"/>
<circle cx="1136.9" cy="1553.2" r="9" fill="url(#sR)"/>
<circle cx="1025.4" cy="1568.9" r="9" fill="url(#sR)"/>
<circle cx="1164.9" cy="1568.0" r="9" fill="url(#sR)"/>
<circle cx="1234.9" cy="1576.0" r="9" fill="url(#sR)"/>
<circle cx="1346.4" cy="1574.5" r="9" fill="url(#sR)"/>
<circle cx="1206.8" cy="1589.5" r="9" fill="url(#sR)"/>
<circle cx="1122.8" cy="1617.2" r="9" fill="url(#sR)"/>
<circle cx="1150.8" cy="1617.2" r="9" fill="url(#sR)"/>
<circle cx="1178.8" cy="1615.5" r="9" fill="url(#sR)"/>
<circle cx="1290.9" cy="1617.2" r="9" fill="url(#sR)"/>
<circle cx="1262.9" cy="1629.9" r="9" fill="url(#sR)"/>
<circle cx="1095.0" cy="1642.3" r="9" fill="url(#sR)"/>
<circle cx="1318.3" cy="1653.5" r="9" fill="url(#sR)"/>
<circle cx="1206.8" cy="1713.1" r="9" fill="url(#sR)"/>
<circle cx="1234.9" cy="1714.0" r="9" fill="url(#sR)"/>
<rect x="2160.0" y="1901.3" width="9" height="9" fill="none" stroke="#a8b6b9" stroke-width="1.1"/>
<path d="M2165.0,1851.9 V1678.7 M2165.0,1979.6 V2089.6" stroke="#679894" stroke-width="3.8" fill="none"/>
<path d="M2059.5,1678.7 H2270.5 M2059.5,2089.6 H2270.5" stroke="#679894" stroke-width="3.8" fill="none" stroke-linecap="round"/>
<rect x="1955.2" y="1851.9" width="419.7" height="127.7" fill="none" stroke="#679894" stroke-width="3.8"/>
<path d="M1955.2,1898.7 H2374.9" stroke="#679894" stroke-width="3.8"/>
<path d="M2166.0,1557.7 L2166.1,1560.6 L2166.2,1563.5 L2166.4,1566.4 L2166.5,1569.3 L2166.6,1572.2 L2166.7,1575.0 L2166.9,1577.9 L2167.1,1580.8 L2167.2,1583.7 L2167.4,1586.6 L2167.6,1589.5 L2167.8,1592.4 L2168.1,1595.3 L2168.3,1598.2 L2168.6,1601.1 L2168.9,1603.9 L2169.2,1606.8 L2169.5,1609.7 L2169.9,1612.6 L2170.2,1615.5 L2170.6,1618.4 L2171.1,1621.3 L2171.5,1624.2 L2172.0,1627.1 L2172.5,1630.0 L2173.0,1632.9 L2173.6,1635.7 L2174.2,1638.6 L2174.8,1641.5 L2175.5,1644.4 L2176.2,1647.3 L2177.0,1650.2 L2177.8,1653.1 L2178.6,1656.0 L2179.5,1658.9 L2180.4,1661.8 L2181.4,1664.6 L2182.4,1667.5 L2183.5,1670.4 L2184.6,1673.3 L2185.8,1676.2 L2187.1,1679.1 L2188.3,1682.0 L2189.7,1684.9 L2191.1,1687.8 L2192.6,1690.7 L2194.1,1693.6 L2195.7,1696.4 L2197.3,1699.3 L2199.1,1702.2 L2200.9,1705.1 L2202.7,1708.0 L2204.6,1710.9 L2206.6,1713.8 L2208.7,1716.7 L2210.8,1719.6 L2213.0,1722.5 L2215.2,1725.3 L2217.6,1728.2 L2219.9,1731.1 L2222.4,1734.0 L2224.9,1736.9 L2227.5,1739.8 L2230.2,1742.7 L2232.9,1745.6 L2235.7,1748.5 L2238.5,1751.4 L2241.4,1754.3 L2244.4,1757.1 L2247.4,1760.0 L2250.4,1762.9 L2253.6,1765.8 L2256.7,1768.7 L2259.9,1771.6 L2263.2,1774.5 L2266.4,1777.4 L2269.7,1780.3 L2273.1,1783.2 L2276.4,1786.0 L2279.8,1788.9 L2283.2,1791.8 L2286.6,1794.7 L2290.1,1797.6 L2293.5,1800.5 L2296.9,1803.4 L2300.3,1806.3 L2303.7,1809.2 L2307.1,1812.1 L2310.5,1815.0 L2313.8,1817.8 L2317.1,1820.7 L2320.3,1823.6 L2323.5,1826.5 L2326.7,1829.4 L2329.8,1832.3 L2332.8,1835.2 L2335.8,1838.1 L2338.7,1841.0 L2341.5,1843.9 L2344.2,1846.8 L2346.8,1849.6 L2349.4,1852.5 L2351.8,1855.4 L2354.1,1858.3 L2356.4,1861.2 L2358.5,1864.1 L2360.5,1867.0 L2362.3,1869.9 L2364.1,1872.8 L2365.7,1875.7 L2367.1,1878.5 L2368.5,1881.4 L2369.7,1884.3 L2370.7,1887.2 L2371.6,1890.1 L2372.4,1893.0 L2373.0,1895.9 L2373.4,1898.8 L2373.7,1901.7 L2373.9,1904.6 L2373.9,1907.5 L2373.7,1910.3 L2373.4,1913.2 L2373.0,1916.1 L2372.4,1919.0 L2371.6,1921.9 L2370.7,1924.8 L2369.7,1927.7 L2368.5,1930.6 L2367.1,1933.5 L2365.7,1936.4 L2364.1,1939.2 L2362.3,1942.1 L2360.5,1945.0 L2358.5,1947.9 L2356.4,1950.8 L2354.1,1953.7 L2351.8,1956.6 L2349.4,1959.5 L2346.8,1962.4 L2344.2,1965.3 L2341.5,1968.2 L2338.7,1971.0 L2335.8,1973.9 L2332.8,1976.8 L2329.8,1979.7 L2326.7,1982.6 L2323.5,1985.5 L2320.3,1988.4 L2317.1,1991.3 L2313.8,1994.2 L2310.4,1997.1 L2307.1,1999.9 L2303.7,2002.8 L2300.3,2005.7 L2296.9,2008.6 L2293.5,2011.5 L2290.0,2014.4 L2286.6,2017.3 L2283.2,2020.2 L2279.8,2023.1 L2276.4,2026.0 L2273.1,2028.9 L2269.7,2031.7 L2266.4,2034.6 L2263.1,2037.5 L2259.9,2040.4 L2256.7,2043.3 L2253.5,2046.2 L2250.4,2049.1 L2247.4,2052.0 L2244.4,2054.9 L2241.4,2057.8 L2238.5,2060.6 L2235.7,2063.5 L2232.9,2066.4 L2230.2,2069.3 L2227.5,2072.2 L2224.9,2075.1 L2222.4,2078.0 L2219.9,2080.9 L2217.5,2083.8 L2215.2,2086.7 L2213.0,2089.6 L2210.8,2092.4 L2208.7,2095.3 L2206.6,2098.2 L2204.6,2101.1 L2202.7,2104.0 L2200.8,2106.9 L2199.1,2109.8 L2197.3,2112.7 L2195.7,2115.6 L2194.1,2118.5 L2192.6,2121.3 L2191.1,2124.2 L2189.7,2127.1 L2188.3,2130.0 L2187.0,2132.9 L2185.8,2135.8" fill="none" stroke="#679894" stroke-width="3.8" stroke-linecap="round"/>
<circle cx="2184.0" cy="1677.8" r="9" fill="url(#sT)"/>
<circle cx="2145.7" cy="1697.2" r="9" fill="url(#sT)"/>
<circle cx="2221.5" cy="1732.6" r="9" fill="url(#sT)"/>
<circle cx="2145.7" cy="1768.6" r="9" fill="url(#sT)"/>
<circle cx="2107.6" cy="1807.0" r="9" fill="url(#sT)"/>
<circle cx="2184.0" cy="1807.6" r="9" fill="url(#sT)"/>
<circle cx="2126.5" cy="1853.3" r="9" fill="url(#sT)"/>
<circle cx="2164.9" cy="1847.4" r="9" fill="url(#sT)"/>
<circle cx="2202.6" cy="1851.2" r="9" fill="url(#sT)"/>
<circle cx="1974.0" cy="1863.6" r="9" fill="url(#sT)"/>
<circle cx="2050.4" cy="1884.6" r="9" fill="url(#sT)"/>
<circle cx="2088.2" cy="1893.4" r="9" fill="url(#sT)"/>
<circle cx="2241.0" cy="1892.5" r="9" fill="url(#sT)"/>
<circle cx="2279.0" cy="1888.7" r="9" fill="url(#sT)"/>
<circle cx="2355.1" cy="1891.1" r="9" fill="url(#sT)"/>
<circle cx="2012.0" cy="1904.9" r="9" fill="url(#sT)"/>
<circle cx="2316.8" cy="1902.3" r="9" fill="url(#sT)"/>
<circle cx="2126.5" cy="1925.6" r="9" fill="url(#sT)"/>
<circle cx="2202.6" cy="1918.2" r="9" fill="url(#sT)"/>
<circle cx="2279.0" cy="1936.2" r="9" fill="url(#sT)"/>
<circle cx="2164.9" cy="1958.2" r="9" fill="url(#sT)"/>
<circle cx="2241.0" cy="1970.2" r="9" fill="url(#sT)"/>
<circle cx="2050.3" cy="1979.4" r="9" fill="url(#sT)"/>
<circle cx="2088.2" cy="1987.7" r="9" fill="url(#sT)"/>
<circle cx="2069.2" cy="2033.8" r="9" fill="url(#sT)"/>
<circle cx="2145.4" cy="2046.2" r="9" fill="url(#sT)"/>
<circle cx="2221.6" cy="2048.6" r="9" fill="url(#sT)"/>
<circle cx="2259.7" cy="2045.4" r="9" fill="url(#sT)"/>
<circle cx="2183.5" cy="2065.9" r="9" fill="url(#sT)"/>
<circle cx="2107.3" cy="2089.2" r="9" fill="url(#sT)"/>
<rect x="2815.5" y="1461.7" width="9" height="9" fill="none" stroke="#d99ca4" stroke-width="1.1"/>
<path d="M2820.0,1414.7 V1355.0 M2820.0,1508.2 V1554.7" stroke="#EE3649" stroke-width="3.8" fill="none"/>
<path d="M2714.5,1355.0 H2925.5 M2714.5,1554.7 H2925.5" stroke="#EE3649" stroke-width="3.8" fill="none" stroke-linecap="round"/>
<rect x="2610.0" y="1414.7" width="420.0" height="93.5" fill="none" stroke="#EE3649" stroke-width="3.8"/>
<path d="M2610.0,1481.0 H3030.0" stroke="#EE3649" stroke-width="3.8"/>
<path d="M2820.9,1285.3 L2821.0,1287.1 L2821.2,1288.9 L2821.3,1290.7 L2821.4,1292.5 L2821.6,1294.3 L2821.8,1296.1 L2821.9,1297.9 L2822.1,1299.8 L2822.4,1301.6 L2822.6,1303.4 L2822.9,1305.2 L2823.2,1307.0 L2823.5,1308.8 L2823.8,1310.6 L2824.2,1312.4 L2824.6,1314.2 L2825.0,1316.0 L2825.5,1317.8 L2826.0,1319.6 L2826.6,1321.4 L2827.1,1323.2 L2827.8,1325.1 L2828.4,1326.9 L2829.2,1328.7 L2830.0,1330.5 L2830.8,1332.3 L2831.7,1334.1 L2832.6,1335.9 L2833.7,1337.7 L2834.7,1339.5 L2835.9,1341.3 L2837.1,1343.1 L2838.4,1344.9 L2839.8,1346.7 L2841.2,1348.5 L2842.8,1350.4 L2844.4,1352.2 L2846.1,1354.0 L2847.9,1355.8 L2849.8,1357.6 L2851.7,1359.4 L2853.8,1361.2 L2856.0,1363.0 L2858.2,1364.8 L2860.6,1366.6 L2863.1,1368.4 L2865.6,1370.2 L2868.3,1372.0 L2871.1,1373.8 L2873.9,1375.7 L2876.9,1377.5 L2880.0,1379.3 L2883.1,1381.1 L2886.4,1382.9 L2889.8,1384.7 L2893.2,1386.5 L2896.7,1388.3 L2900.3,1390.1 L2904.0,1391.9 L2907.8,1393.7 L2911.6,1395.5 L2915.5,1397.3 L2919.5,1399.1 L2923.5,1400.9 L2927.6,1402.8 L2931.6,1404.6 L2935.8,1406.4 L2939.9,1408.2 L2944.1,1410.0 L2948.2,1411.8 L2952.4,1413.6 L2956.6,1415.4 L2960.7,1417.2 L2964.8,1419.0 L2968.9,1420.8 L2972.9,1422.6 L2976.8,1424.4 L2980.7,1426.2 L2984.5,1428.1 L2988.2,1429.9 L2991.8,1431.7 L2995.3,1433.5 L2998.6,1435.3 L3001.9,1437.1 L3004.9,1438.9 L3007.9,1440.7 L3010.7,1442.5 L3013.3,1444.3 L3015.7,1446.1 L3018.0,1447.9 L3020.0,1449.7 L3021.9,1451.5 L3023.6,1453.4 L3025.0,1455.2 L3026.3,1457.0 L3027.3,1458.8 L3028.1,1460.6 L3028.7,1462.4 L3029.1,1464.2 L3029.2,1466.0 L3029.1,1467.8 L3028.8,1469.6 L3028.3,1471.4 L3027.5,1473.2 L3026.5,1475.0 L3025.3,1476.8 L3023.9,1478.6 L3022.3,1480.5 L3020.5,1482.3 L3018.4,1484.1 L3016.2,1485.9 L3013.8,1487.7 L3011.3,1489.5 L3008.5,1491.3 L3005.6,1493.1 L3002.6,1494.9 L2999.3,1496.7 L2996.0,1498.5 L2992.6,1500.3 L2989.0,1502.1 L2985.3,1503.9 L2981.5,1505.8 L2977.7,1507.6 L2973.7,1509.4 L2969.7,1511.2 L2965.7,1513.0 L2961.6,1514.8 L2957.5,1516.6 L2953.3,1518.4 L2949.2,1520.2 L2945.0,1522.0 L2940.8,1523.8 L2936.7,1525.6 L2932.6,1527.4 L2928.5,1529.2 L2924.4,1531.1 L2920.4,1532.9 L2916.4,1534.7 L2912.5,1536.5 L2908.6,1538.3 L2904.9,1540.1 L2901.1,1541.9 L2897.5,1543.7 L2894.0,1545.5 L2890.5,1547.3 L2887.1,1549.1 L2883.9,1550.9 L2880.7,1552.7 L2877.6,1554.5 L2874.6,1556.3 L2871.7,1558.2 L2868.9,1560.0 L2866.2,1561.8 L2863.6,1563.6 L2861.2,1565.4 L2858.8,1567.2 L2856.5,1569.0 L2854.3,1570.8 L2852.2,1572.6 L2850.2,1574.4 L2848.3,1576.2 L2846.5,1578.0 L2844.7,1579.8 L2843.1,1581.6 L2841.6,1583.5 L2840.1,1585.3 L2838.7,1587.1 L2837.4,1588.9 L2836.2,1590.7 L2835.0,1592.5 L2833.9,1594.3 L2832.9,1596.1 L2831.9,1597.9 L2831.0,1599.7 L2830.1,1601.5 L2829.3,1603.3 L2828.6,1605.1 L2827.9,1606.9 L2827.3,1608.8 L2826.7,1610.6 L2826.1,1612.4 L2825.6,1614.2 L2825.1,1616.0 L2824.7,1617.8 L2824.3,1619.6 L2823.9,1621.4 L2823.6,1623.2 L2823.2,1625.0 L2822.9,1626.8 L2822.7,1628.6 L2822.4,1630.4 L2822.2,1632.2 L2822.0,1634.1 L2821.8,1635.9 L2821.6,1637.7 L2821.5,1639.5 L2821.3,1641.3 L2821.2,1643.1 L2821.1,1644.9 L2821.0,1646.7" fill="none" stroke="#EE3649" stroke-width="3.8" stroke-linecap="round"/>
<circle cx="2638.1" cy="1385.6" r="9" fill="url(#sR)"/>
<circle cx="3001.9" cy="1384.5" r="9" fill="url(#sR)"/>
<circle cx="2819.8" cy="1354.1" r="9" fill="url(#sR)"/>
<circle cx="2833.7" cy="1380.0" r="9" fill="url(#sR)"/>
<circle cx="2722.2" cy="1408.7" r="9" fill="url(#sR)"/>
<circle cx="2777.7" cy="1414.6" r="9" fill="url(#sR)"/>
<circle cx="2889.2" cy="1413.7" r="9" fill="url(#sR)"/>
<circle cx="2917.2" cy="1415.1" r="9" fill="url(#sR)"/>
<circle cx="2945.8" cy="1407.8" r="9" fill="url(#sR)"/>
<circle cx="2666.1" cy="1425.5" r="9" fill="url(#sR)"/>
<circle cx="2973.2" cy="1443.5" r="9" fill="url(#sR)"/>
<circle cx="2750.2" cy="1455.9" r="9" fill="url(#sR)"/>
<circle cx="2861.7" cy="1452.0" r="9" fill="url(#sR)"/>
<circle cx="2805.7" cy="1470.0" r="9" fill="url(#sR)"/>
<circle cx="2694.2" cy="1476.5" r="9" fill="url(#sR)"/>
<circle cx="2875.9" cy="1483.0" r="9" fill="url(#sR)"/>
<circle cx="2903.6" cy="1488.9" r="9" fill="url(#sR)"/>
<circle cx="2931.6" cy="1491.3" r="9" fill="url(#sR)"/>
<circle cx="2708.3" cy="1498.6" r="9" fill="url(#sR)"/>
<circle cx="2763.8" cy="1497.7" r="9" fill="url(#sR)"/>
<circle cx="2791.8" cy="1500.1" r="9" fill="url(#sR)"/>
<circle cx="2652.3" cy="1507.5" r="9" fill="url(#sR)"/>
<circle cx="2847.9" cy="1506.0" r="9" fill="url(#sR)"/>
<circle cx="3015.7" cy="1514.0" r="9" fill="url(#sR)"/>
<circle cx="2624.3" cy="1524.3" r="9" fill="url(#sR)"/>
<circle cx="2819.8" cy="1517.2" r="9" fill="url(#sR)"/>
<circle cx="2987.7" cy="1522.8" r="9" fill="url(#sR)"/>
<circle cx="2680.3" cy="1531.7" r="9" fill="url(#sR)"/>
<circle cx="2735.8" cy="1549.7" r="9" fill="url(#sR)"/>
<circle cx="2959.7" cy="1554.1" r="9" fill="url(#sR)"/>
<path d="M240.0,886.2 H252.0 M240.0,701.2 H252.0 M240.0,516.2 H252.0 M240.0,331.2 H252.0 M240.0,146.2 H252.0 M240.0,978.7 H246.0 M240.0,793.7 H246.0 M240.0,608.7 H246.0 M240.0,423.7 H246.0 M240.0,238.7 H246.0 M555.5,1072.0 V1060.0 M870.9,1072.0 V1060.0 M1186.3,1072.0 V1060.0 M1501.8,1072.0 V1060.0 M397.7,1072.0 V1066.0 M713.2,1072.0 V1066.0 M1028.6,1072.0 V1066.0 M1344.1,1072.0 V1066.0 M1835.0,1073.0 H1851.5 M1835.0,841.8 H1851.5 M1835.0,610.5 H1851.5 M1835.0,379.3 H1851.5 M1835.0,148.0 H1851.5 M1835.0,957.4 H1843.0 M1835.0,726.1 H1843.0 M1835.0,494.9 H1843.0 M1835.0,263.6 H1843.0 M2162.0,1073.0 V1056.5 M2817.6,1073.0 V1056.5 M240.0,2035.0 H256.0 M240.0,1778.0 H256.0 M240.0,1521.0 H256.0 M240.0,1264.0 H256.0 M240.0,2163.5 H248.0 M240.0,1906.5 H248.0 M240.0,1649.5 H248.0 M240.0,1392.5 H248.0 M566.5,2189.3 V2172.8 M1220.7,2189.3 V2172.8 M1837.0,2133.6 H1853.5 M1837.0,2025.1 H1853.5 M1837.0,1916.5 H1853.5 M1837.0,1808.0 H1853.5 M1837.0,1699.4 H1853.5 M1837.0,1590.8 H1853.5 M1837.0,1482.3 H1853.5 M1837.0,1373.8 H1853.5 M1837.0,1265.2 H1853.5 M1837.0,2079.3 H1845.0 M1837.0,1970.8 H1845.0 M1837.0,1862.2 H1845.0 M1837.0,1753.7 H1845.0 M1837.0,1645.1 H1845.0 M1837.0,1536.6 H1845.0 M1837.0,1428.0 H1845.0 M1837.0,1319.5 H1845.0 M2164.5,2190.0 V2173.5 M2820.0,2190.0 V2173.5" stroke="#0e0e0e" stroke-width="3.8" fill="none"/>
<rect x="240" y="146.5" width="1309.5" height="925.5" fill="none" stroke="#0e0e0e" stroke-width="4"/>
<rect x="1835" y="148" width="1310.4" height="925" fill="none" stroke="#0e0e0e" stroke-width="4"/>
<rect x="240" y="1264" width="1308" height="925.3000000000002" fill="none" stroke="#0e0e0e" stroke-width="4"/>
<rect x="1837" y="1265.2" width="1310" height="924.8" fill="none" stroke="#0e0e0e" stroke-width="4"/>
<g filter="url(#idf)">
<text transform="matrix(0.83396,0,0,1.26631,-3.30,93.81)" font-size="100" font-weight="normal" stroke="#0e0e0e" stroke-width="2.476" stroke-linejoin="round" fill="#0e0e0e">(</text>
<text transform="matrix(0.99020,0,0,1.21818,36.09,97.73)" font-size="100" font-weight="normal" stroke="#0e0e0e" stroke-width="0.453" stroke-linejoin="round" fill="#0e0e0e">a</text>
<text transform="matrix(0.86923,0,0,1.26631,109.53,93.81)" font-size="100" font-weight="normal" stroke="#0e0e0e" stroke-width="2.435" stroke-linejoin="round" fill="#0e0e0e">)</text>
<text transform="matrix(0.84528,0,0,1.26631,1599.43,92.71)" font-size="100" font-weight="normal" stroke="#0e0e0e" stroke-width="2.463" stroke-linejoin="round" fill="#0e0e0e">(</text>
<text transform="matrix(1.25111,0,0,1.31429,1640.32,97.14)" font-size="100" font-weight="normal" stroke="#0e0e0e" stroke-width="0.390" stroke-linejoin="round" fill="#0e0e0e">b</text>
<text transform="matrix(0.85385,0,0,1.26631,1719.45,92.71)" font-size="100" font-weight="normal" stroke="#0e0e0e" stroke-width="2.453" stroke-linejoin="round" fill="#0e0e0e">)</text>
<text transform="matrix(0.83019,0,0,1.27273,-0.18,1220.67)" font-size="100" font-weight="normal" stroke="#0e0e0e" stroke-width="2.473" stroke-linejoin="round" fill="#0e0e0e">(</text>
<text transform="matrix(1.11860,0,0,1.22000,39.32,1224.23)" font-size="100" font-weight="normal" stroke="#0e0e0e" stroke-width="0.428" stroke-linejoin="round" fill="#0e0e0e">c</text>
<text transform="matrix(0.87692,0,0,1.27273,105.52,1220.67)" font-size="100" font-weight="normal" stroke="#0e0e0e" stroke-width="2.419" stroke-linejoin="round" fill="#0e0e0e">)</text>
<text transform="matrix(0.82642,0,0,1.25455,1598.84,1222.05)" font-size="100" font-weight="normal" stroke="#0e0e0e" stroke-width="2.499" stroke-linejoin="round" fill="#0e0e0e">(</text>
<text transform="matrix(1.26222,0,0,1.31020,1638.10,1226.74)" font-size="100" font-weight="normal" stroke="#0e0e0e" stroke-width="0.389" stroke-linejoin="round" fill="#0e0e0e">d</text>
<text transform="matrix(0.86154,0,0,1.25455,1718.64,1222.05)" font-size="100" font-weight="normal" stroke="#0e0e0e" stroke-width="2.457" stroke-linejoin="round" fill="#0e0e0e">)</text>
<text transform="matrix(0,-0.59137,0.65634,0,140.34,713.07)" font-size="100" font-weight="bold" fill="#0e0e0e">Counts</text>
<text transform="matrix(0.51590,0,0,0.64366,815.35,1177.26)" font-size="100" font-weight="bold" fill="#0e0e0e">PCE</text>
<text transform="matrix(0.60000,0,0,0.65348,938.40,1175.98)" font-size="100" font-weight="bold" fill="#0e0e0e">(%)</text>
<text transform="matrix(0,-0.61538,0.65217,0,1690.00,661.23)" font-size="100" font-weight="bold" font-style="italic" fill="#0e0e0e">V</text>
<text transform="matrix(0,-0.38904,0.43455,0,1709.47,621.06)" font-size="100" font-weight="bold" fill="#0e0e0e">oc</text>
<text transform="matrix(0,-0.63482,0.65027,0,1688.14,559.77)" font-size="100" font-weight="bold" fill="#0e0e0e">(V)</text>
<text transform="matrix(0,-0.48393,0.65571,0,105.84,1899.43)" font-size="100" font-weight="bold" font-style="italic" fill="#0e0e0e">J</text>
<text transform="matrix(0,-0.35885,0.43455,0,124.77,1873.56)" font-size="100" font-weight="bold" fill="#0e0e0e">sc</text>
<text transform="matrix(0,-0.62466,0.65561,0,103.63,1817.92)" font-size="100" font-weight="bold" fill="#0e0e0e">(mA</text>
<text transform="matrix(0,-0.68571,0.71333,0,109.05,1698.50)" font-size="100" font-weight="bold" fill="#0e0e0e">·</text>
<text transform="matrix(0,-0.59554,0.63091,0,105.37,1679.28)" font-size="100" font-weight="bold" fill="#0e0e0e">cm</text>
<text transform="matrix(0,-0.41415,0.44143,0,77.40,1592.66)" font-size="100" font-weight="bold" fill="#0e0e0e">−2</text>
<text transform="matrix(0,-0.52857,0.65561,0,103.63,1542.16)" font-size="100" font-weight="bold" fill="#0e0e0e">)</text>
<text transform="matrix(0,-0.50893,0.64818,0,1737.52,1723.21)" font-size="100" font-weight="bold" fill="#0e0e0e">FF</text>
<text transform="matrix(0.46919,0,0,0.49388,572.65,354.91)" font-size="100" font-weight="bold" fill="#679894">Pristine</text>
<text transform="matrix(0.40111,0,0,0.50000,1226.69,355.30)" font-size="100" font-weight="bold" fill="#EE3649">PLL</text>
<text transform="matrix(0.60112,0,0,0.63673,2050.79,1145.86)" font-size="100" font-weight="bold" fill="#679894">Pristine</text>
<text transform="matrix(0.51086,0,0,0.64638,2771.28,1144.20)" font-size="100" font-weight="bold" fill="#EE3649">PLL</text>
<text transform="matrix(0.60112,0,0,0.62449,454.39,2254.58)" font-size="100" font-weight="bold" fill="#679894">Pristine</text>
<text transform="matrix(0.50919,0,0,0.64493,1174.79,2252.80)" font-size="100" font-weight="bold" fill="#EE3649">PLL</text>
<text transform="matrix(0.59944,0,0,0.63129,2053.10,2257.97)" font-size="100" font-weight="bold" fill="#679894">Pristine</text>
<text transform="matrix(0.50919,0,0,0.64638,2773.69,2256.90)" font-size="100" font-weight="bold" fill="#EE3649">PLL</text>
<text x="198.50" y="899.80" font-size="50" font-weight="bold" fill="#0e0e0e">5</text>
<text x="171.50" y="714.80" font-size="50" font-weight="bold" fill="#0e0e0e">10</text>
<text x="170.75" y="529.80" font-size="50" font-weight="bold" fill="#0e0e0e">15</text>
<text x="171.50" y="344.80" font-size="50" font-weight="bold" fill="#0e0e0e">20</text>
<text x="170.75" y="159.80" font-size="50" font-weight="bold" fill="#0e0e0e">25</text>
<text x="212.38" y="1123.80" font-size="50" font-weight="bold" fill="#0e0e0e">20</text>
<text x="527.45" y="1123.80" font-size="50" font-weight="bold" fill="#0e0e0e">21</text>
<text x="843.27" y="1123.80" font-size="50" font-weight="bold" fill="#0e0e0e">22</text>
<text x="1158.60" y="1123.80" font-size="50" font-weight="bold" fill="#0e0e0e">23</text>
<text x="1473.30" y="1123.80" font-size="50" font-weight="bold" fill="#0e0e0e">24</text>
<text x="1719.10" y="1085.60" font-size="50" font-weight="bold" fill="#0e0e0e">1.15</text>
<text x="1719.60" y="854.35" font-size="50" font-weight="bold" fill="#0e0e0e">1.16</text>
<text x="1720.10" y="623.10" font-size="50" font-weight="bold" fill="#0e0e0e">1.17</text>
<text x="1719.35" y="391.85" font-size="50" font-weight="bold" fill="#0e0e0e">1.18</text>
<text x="1719.60" y="160.60" font-size="50" font-weight="bold" fill="#0e0e0e">1.19</text>
<text x="124.10" y="2047.80" font-size="50" font-weight="bold" fill="#0e0e0e">23.5</text>
<text x="124.85" y="1790.80" font-size="50" font-weight="bold" fill="#0e0e0e">24.0</text>
<text x="124.10" y="1533.80" font-size="50" font-weight="bold" fill="#0e0e0e">24.5</text>
<text x="124.85" y="1276.80" font-size="50" font-weight="bold" fill="#0e0e0e">25.0</text>
<text x="1762.85" y="2146.60" font-size="50" font-weight="bold" fill="#0e0e0e">74</text>
<text x="1763.85" y="2038.05" font-size="50" font-weight="bold" fill="#0e0e0e">75</text>
<text x="1764.35" y="1929.50" font-size="50" font-weight="bold" fill="#0e0e0e">76</text>
<text x="1764.60" y="1820.95" font-size="50" font-weight="bold" fill="#0e0e0e">77</text>
<text x="1764.10" y="1712.40" font-size="50" font-weight="bold" fill="#0e0e0e">78</text>
<text x="1764.35" y="1603.85" font-size="50" font-weight="bold" fill="#0e0e0e">79</text>
<text x="1764.60" y="1495.30" font-size="50" font-weight="bold" fill="#0e0e0e">80</text>
<text x="1763.85" y="1386.75" font-size="50" font-weight="bold" fill="#0e0e0e">81</text>
<text x="1764.60" y="1278.20" font-size="50" font-weight="bold" fill="#0e0e0e">82</text>
</g>
</svg></body></html>
